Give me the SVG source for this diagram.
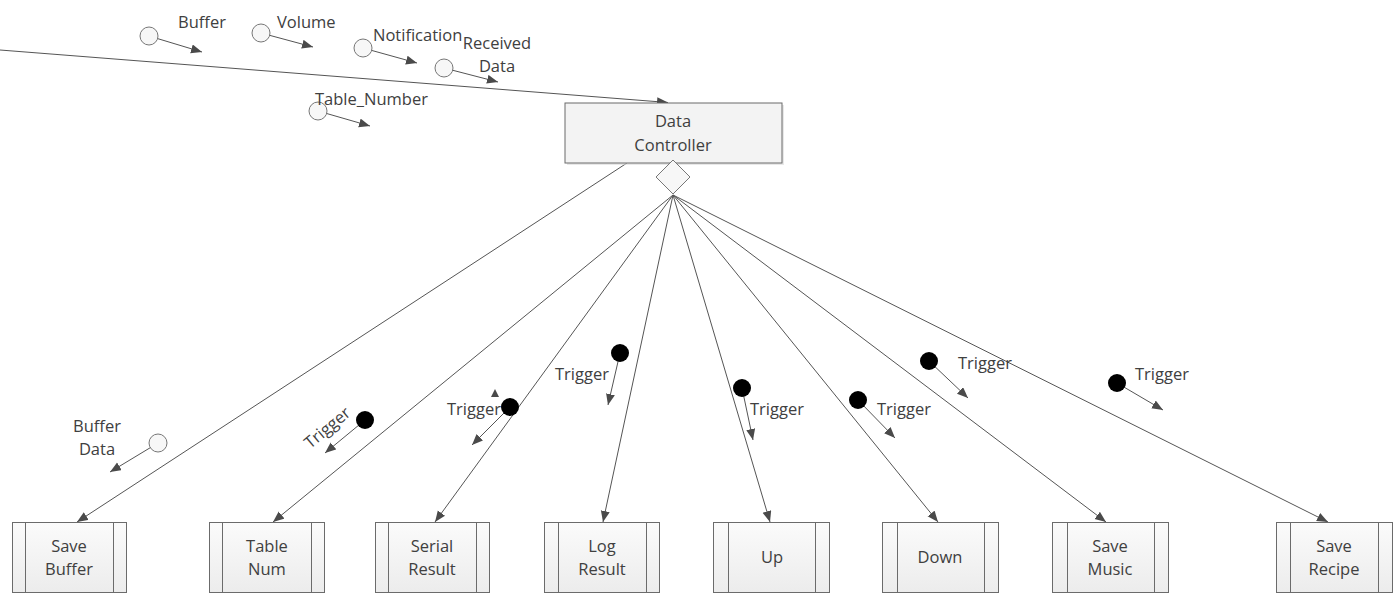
<svg xmlns="http://www.w3.org/2000/svg" width="1394" height="593" viewBox="0 0 1394 593">
<style>
text{font-family:"Open Sans","Noto Sans","Liberation Sans",sans-serif;font-size:16.5px;fill:#404040}
.c{text-anchor:middle}
.ln{stroke:#555;stroke-width:1;fill:none}
.box{fill:url(#g);stroke:#6b6b6b;stroke-width:1}
.div{stroke:#6b6b6b;stroke-width:1}
.wd{fill:#f7f7f7;stroke:#777;stroke-width:1}
.bd{fill:#000}
</style>
<defs>
<linearGradient id="g" x1="0" y1="0" x2="0" y2="1"><stop offset="0" stop-color="#fbfbfb"/><stop offset="1" stop-color="#ececec"/></linearGradient>
<marker id="a" markerUnits="userSpaceOnUse" markerWidth="12" markerHeight="10" refX="11" refY="4.5" orient="auto"><path d="M0,0 L11,4.5 L0,9 z" fill="#4a4a4a"/></marker>
</defs>
<g id="connectors">
<line class="ln" x1="0" y1="50" x2="668" y2="102.5" marker-end="url(#a)"/>
<line class="ln" x1="627" y1="163" x2="77" y2="522" marker-end="url(#a)"/>
<line class="ln" x1="673" y1="195" x2="273" y2="522" marker-end="url(#a)"/>
<line class="ln" x1="673" y1="195" x2="435" y2="522" marker-end="url(#a)"/>
<line class="ln" x1="673" y1="195" x2="603" y2="522" marker-end="url(#a)"/>
<line class="ln" x1="673" y1="195" x2="770" y2="522" marker-end="url(#a)"/>
<line class="ln" x1="673" y1="195" x2="938" y2="522" marker-end="url(#a)"/>
<line class="ln" x1="673" y1="195" x2="1106" y2="522" marker-end="url(#a)"/>
<line class="ln" x1="673" y1="195" x2="1328" y2="522" marker-end="url(#a)"/>
<line class="ln" x1="149" y1="36" x2="202" y2="52" marker-end="url(#a)"/>
<line class="ln" x1="261" y1="33" x2="313" y2="47" marker-end="url(#a)"/>
<line class="ln" x1="363" y1="48" x2="417" y2="63" marker-end="url(#a)"/>
<line class="ln" x1="444" y1="68" x2="498" y2="82" marker-end="url(#a)"/>
<line class="ln" x1="318" y1="111" x2="370" y2="126" marker-end="url(#a)"/>
<line class="ln" x1="158" y1="443" x2="110" y2="472" marker-end="url(#a)"/>
<line class="ln" x1="365" y1="420" x2="325" y2="453" marker-end="url(#a)"/>
<line class="ln" x1="510" y1="407" x2="472" y2="445" marker-end="url(#a)"/>
<line class="ln" x1="620" y1="353" x2="608" y2="405" marker-end="url(#a)"/>
<line class="ln" x1="742" y1="388" x2="753" y2="440" marker-end="url(#a)"/>
<line class="ln" x1="858" y1="400" x2="895" y2="438" marker-end="url(#a)"/>
<line class="ln" x1="929" y1="361" x2="968" y2="398" marker-end="url(#a)"/>
<line class="ln" x1="1117" y1="383" x2="1163" y2="410" marker-end="url(#a)"/>
<polygon points="495,389 499,397 491,397" fill="#4a4a4a"/>
</g>
<g id="data-controller">
<rect x="567" y="105" width="217" height="60" fill="#d9d9d9" opacity="0.6"/>
<rect x="565" y="103" width="217" height="60" fill="#f3f3f3" stroke="#6b6b6b"/>
<text class="c" x="673" y="127">Data</text>
<text class="c" x="673" y="151">Controller</text>
<polygon class="wd" points="673,160 690,177 673,194 656,177"/>
</g>
<g id="save-buffer"><rect class="box" x="12.5" y="522.5" width="114" height="70"/><line class="div" x1="25.5" y1="522.5" x2="25.5" y2="592.5"/><line class="div" x1="113.5" y1="522.5" x2="113.5" y2="592.5"/><text class="c" x="69" y="552">Save</text><text class="c" x="69" y="575">Buffer</text></g>
<g id="table-num"><rect class="box" x="209.5" y="522.5" width="115" height="70"/><line class="div" x1="222.5" y1="522.5" x2="222.5" y2="592.5"/><line class="div" x1="311.5" y1="522.5" x2="311.5" y2="592.5"/><text class="c" x="267" y="552">Table</text><text class="c" x="267" y="575">Num</text></g>
<g id="serial-result"><rect class="box" x="375.5" y="522.5" width="114" height="70"/><line class="div" x1="388.5" y1="522.5" x2="388.5" y2="592.5"/><line class="div" x1="476.5" y1="522.5" x2="476.5" y2="592.5"/><text class="c" x="432" y="552">Serial</text><text class="c" x="432" y="575">Result</text></g>
<g id="log-result"><rect class="box" x="544.5" y="522.5" width="115" height="70"/><line class="div" x1="558.5" y1="522.5" x2="558.5" y2="592.5"/><line class="div" x1="646.5" y1="522.5" x2="646.5" y2="592.5"/><text class="c" x="602" y="552">Log</text><text class="c" x="602" y="575">Result</text></g>
<g id="up"><rect class="box" x="713.5" y="522.5" width="116" height="70"/><line class="div" x1="728.5" y1="522.5" x2="728.5" y2="592.5"/><line class="div" x1="815.5" y1="522.5" x2="815.5" y2="592.5"/><text class="c" x="772" y="563">Up</text></g>
<g id="down"><rect class="box" x="882.5" y="522.5" width="116" height="70"/><line class="div" x1="897.5" y1="522.5" x2="897.5" y2="592.5"/><line class="div" x1="984.5" y1="522.5" x2="984.5" y2="592.5"/><text class="c" x="940" y="563">Down</text></g>
<g id="save-music"><rect class="box" x="1052.5" y="522.5" width="116" height="70"/><line class="div" x1="1067.5" y1="522.5" x2="1067.5" y2="592.5"/><line class="div" x1="1154.5" y1="522.5" x2="1154.5" y2="592.5"/><text class="c" x="1110" y="552">Save</text><text class="c" x="1110" y="575">Music</text></g>
<g id="save-recipe"><rect class="box" x="1276.5" y="522.5" width="116" height="70"/><line class="div" x1="1290.5" y1="522.5" x2="1290.5" y2="592.5"/><line class="div" x1="1378.5" y1="522.5" x2="1378.5" y2="592.5"/><text class="c" x="1334" y="552">Save</text><text class="c" x="1334" y="575">Recipe</text></g>
<g id="buffer-in"><circle class="wd" cx="149" cy="36" r="9"/><text x="178" y="28">Buffer</text></g>
<g id="volume-in"><circle class="wd" cx="261" cy="33" r="9"/><text x="277" y="28">Volume</text></g>
<g id="notification-in"><circle class="wd" cx="363" cy="48" r="9"/><text x="373" y="41">Notification</text></g>
<g id="received-in"><circle class="wd" cx="444" cy="68" r="9"/><text class="c" x="497" y="49">Received</text><text class="c" x="497" y="72">Data</text></g>
<g id="table-number-in"><circle class="wd" cx="318" cy="111" r="9"/><text x="315" y="105">Table_Number</text></g>
<g id="buffer-data"><circle class="wd" cx="158" cy="443" r="9"/><text class="c" x="97" y="432">Buffer</text><text class="c" x="97" y="455">Data</text></g>
<g id="trigger-table"><circle class="bd" cx="365" cy="420" r="9"/><text class="c" x="331" y="432" transform="rotate(-40 331 432)">Trigger</text></g>
<g id="trigger-serial"><circle class="bd" cx="510" cy="407" r="9"/><text x="447" y="415">Trigger</text></g>
<g id="trigger-log"><circle class="bd" cx="620" cy="353" r="9"/><text x="555" y="380">Trigger</text></g>
<g id="trigger-up"><circle class="bd" cx="742" cy="388" r="9"/><text x="750" y="415">Trigger</text></g>
<g id="trigger-down"><circle class="bd" cx="858" cy="400" r="9"/><text x="877" y="415">Trigger</text></g>
<g id="trigger-music"><circle class="bd" cx="929" cy="361" r="9"/><text x="958" y="369">Trigger</text></g>
<g id="trigger-recipe"><circle class="bd" cx="1117" cy="383" r="9"/><text x="1135" y="380">Trigger</text></g>
</svg>
